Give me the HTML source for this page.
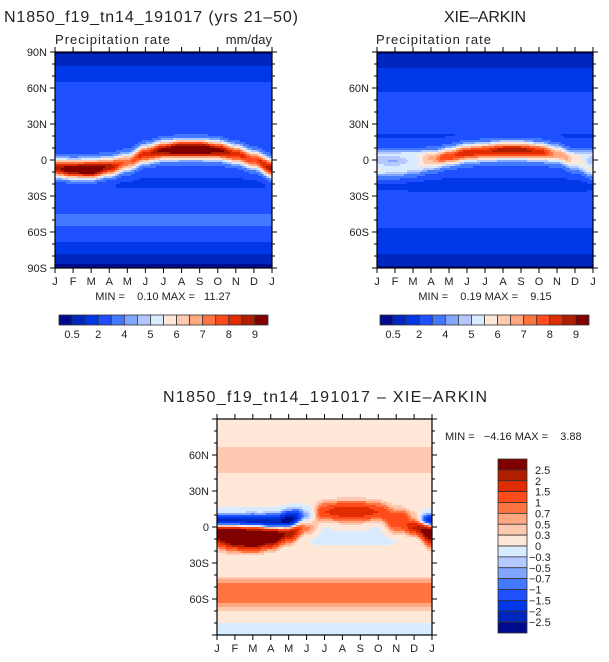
<!DOCTYPE html>
<html><head><meta charset="utf-8"><style>
body{margin:0;background:#fff;}
svg{display:block;font-family:"Liberation Sans",sans-serif;}
</style></head><body>
<svg id="chart" width="609" height="662" viewBox="0 0 609 662" xmlns="http://www.w3.org/2000/svg">
<g id="texts">
<text x="4" y="22" font-size="16" textLength="294" fill="#222">N1850_f19_tn14_191017 (yrs 21–50)</text>
<text x="55" y="44" font-size="13" textLength="115" fill="#222">Precipitation rate</text>
<text x="272" y="44" font-size="13" text-anchor="end" fill="#222">mm/day</text>
<text x="485" y="22" font-size="16" text-anchor="middle" textLength="82" fill="#222">XIE–ARKIN</text>
<text x="376" y="44" font-size="13" textLength="115" fill="#222">Precipitation rate</text>
<text x="163" y="300" font-size="11" text-anchor="middle" fill="#222" xml:space="preserve">MIN =    0.10 MAX =   11.27</text>
<text x="485" y="300" font-size="11" text-anchor="middle" fill="#222" xml:space="preserve">MIN =    0.19 MAX =    9.15</text>
<text x="163" y="402" font-size="16" textLength="324" fill="#222">N1850_f19_tn14_191017 – XIE–ARKIN</text>
<text x="445" y="440" font-size="11" fill="#222" xml:space="preserve">MIN =   −4.16 MAX =    3.88</text>
</g>
</svg>
<script>
// ---- data ----
const months = ['J','F','M','A','M','J','J','A','S','O','N','D','J'];
const latNodes = [-90,-80,-70,-60,-50,-40,-30,-20,-10,0,10,20,30,40,50,60,70,80,90];
const modelBg = [0.3,0.9,1.9,2.8,3.2,2.8,2.3,1.8,2.2,2.4,2.2,2.0,2.5,2.8,2.6,2.4,1.6,0.9,0.4];
const obsBg   = [0.4,0.9,1.6,1.9,2.2,2.6,2.2,1.7,2.3,2.5,2.3,1.9,2.4,2.6,2.2,1.9,1.4,0.8,0.4];
const modelItczLat  = [-7,-8,-8,-6,-2,5,8,9,9,8,5,0,-7];
const modelItczPeak = [6.5,7.5,8,6.5,5,6,7,8,8,7,6,5.5,6.5];
const obsItczLat    = [-8,-8,-6,-2,3,6,7,8,8,7,5,-2,-8];
const obsItczPeak   = [3.2,3,3,3.5,5.5,6,6,6.5,6.5,6,4.5,3,3.2];
const obsItcz2Lat   = [5,5,5,5,5,5,5,5,5,5,5,5,5];
const obsItcz2Peak  = [2.5,2.5,2.5,2,0,0,0,0,0,0,0,1.5,2.5];
const precipLevels = [0.5,1,2,3,4,4.5,5,5.5,6,6.5,7,7.5,8,8.5,9];
const precipLabels = ['0.5','2','4','5','6','7','8','9'];
const diffLevels = [-2.5,-2,-1.5,-1,-0.7,-0.5,-0.3,0,0.3,0.5,0.7,1,1.5,2,2.5];
const diffLabels = ['2.5','2','1.5','1','0.7','0.5','0.3','0','−0.3','−0.5','−0.7','−1','−1.5','−2','−2.5'];
const latTicksFull = ['90S','60S','30S','0','30N','60N','90N'];
const latTicksDiff = ['60S','30S','0','30N','60N'];
const colors = ['#000a8c','#0026c0','#0038e8','#1e50ff','#4279ff','#80a6ff','#b3c9ff','#d9ebff','#ffe8d8','#ffc8b0','#ffa882','#ff7440','#ff4c1a','#e02c00','#b01e00','#800000'];

const NS='http://www.w3.org/2000/svg';
const svg=document.getElementById('chart');
function mk(tag,attrs,parent){const e=document.createElementNS(NS,tag);for(const k in attrs)e.setAttribute(k,attrs[k]);(parent||svg).appendChild(e);return e;}
function interpMonth(arr,m){const i=Math.min(11,Math.floor(m));const t=m-i;const s=(1-Math.cos(Math.PI*t))/2;return arr[i]*(1-s)+arr[i+1]*s;}
function interpLat(arr,lat){const p=(lat+90)/10;const i=Math.min(17,Math.floor(p));const t=p-i;return arr[i]*(1-t)+arr[i+1]*t;}
function g(lat,c,w){const d=(lat-c)/w;return Math.exp(-d*d);}
function modelVal(m,lat){return interpLat(modelBg,lat)+interpMonth(modelItczPeak,m)*g(lat,interpMonth(modelItczLat,m),8.5);}
function obsVal(m,lat){return interpLat(obsBg,lat)+interpMonth(obsItczPeak,m)*g(lat,interpMonth(obsItczLat,m),8)+interpMonth(obsItcz2Peak,m)*g(lat,interpMonth(obsItcz2Lat,m),5);}
function diffVal(m,lat){return modelVal(m,lat)-obsVal(m,lat);}
function level(v,levels){let k=0;while(k<levels.length&&v>=levels[k])k++;return k;}

function drawPanel(name,x0,y0,W,H,fn,levels,ticks,topTicks){
  const gp=mk('g',{});
  
  
  const xs=v=>x0+v/12*W, ys=lat=>y0+(90-lat)/180*H;
  const rowH=2;
  for(let y=0;y<H;y+=rowH){
    const lat=90-(y+rowH/2)/H*180;
    let start=0,cur=-1;
    for(let x=0;x<=W;x++){
      let k=-1;
      if(x<W){k=level(fn((x+0.5)/W*12,lat),levels);}
      if(k!==cur){
        if(cur>=0){const r=mk('rect',{x:x0+start,y:y0+y,width:x-start+0.4,height:rowH+0.4,fill:colors[cur]},gp);
          
          }
        start=x;cur=k;
      }
    }
  }
  const f=mk('rect',{x:x0,y:y0,width:W,height:H,fill:'none',stroke:'#000','stroke-width':1.2},gp);
  
  
  months.forEach((mo,i)=>{
    const x=xs(i);
    mk('line',{x1:x,x2:x,y1:y0+H,y2:y0+H+5,stroke:'#000'},gp);
    if(topTicks)mk('line',{x1:x,x2:x,y1:y0,y2:y0-5,stroke:'#000'},gp);
    const t=mk('text',{x:x,y:y0+H+17,'font-size':11,'text-anchor':'middle',fill:'#222'},gp);
    t.textContent=mo;
    
    
  });
  for(let lat=-90;lat<=90;lat+=10){
    const y=ys(lat);const major=lat%30===0;const L=major?5:3;
    mk('line',{x1:x0,x2:x0-L,y1:y,y2:y,stroke:'#000'},gp);
    mk('line',{x1:x0+W,x2:x0+W+L,y1:y,y2:y,stroke:'#000'},gp);
  }
  ticks.forEach(lb=>{
    const lat=lb==='0'?0:(parseInt(lb)*(lb.endsWith('S')?-1:1));
    const t=mk('text',{x:x0-8,y:ys(lat)+4,'font-size':11,'text-anchor':'end',fill:'#222'},gp);
    t.textContent=lb;
    
    
  });
}
function hBar(name,x0,y0,W,H){
  const gp=mk('g',{});
  
  
  const bw=W/16;
  colors.forEach((c,i)=>{const r=mk('rect',{x:x0+i*bw,y:y0,width:bw,height:H,fill:c,stroke:'#333','stroke-width':0.8},gp);
    
    });
  precipLabels.forEach((lb,i)=>{const t=mk('text',{x:x0+(1+2*i)*bw,y:y0+H+13,'font-size':11,'text-anchor':'middle',fill:'#222'},gp);
    t.textContent=lb;
    
    });
}
drawPanel('model-panel',55,52,217,216,modelVal,precipLevels,latTicksFull,true);
drawPanel('obs-panel',377,52,216,216,obsVal,precipLevels,latTicksFull.slice(1,6),true);
drawPanel('diff-panel',217,419,215,216,diffVal,diffLevels,latTicksDiff,true);
hBar('model-colorbar',59,315,209,10);
hBar('obs-colorbar',380,315,209,10);
(function(){
  const gp=mk('g',{});
  
  
  const x0=498,y0=459,W=29,H=174,bh=H/16;
  for(let i=0;i<16;i++){const r=mk('rect',{x:x0,y:y0+i*bh,width:W,height:bh,fill:colors[15-i],stroke:'#333','stroke-width':0.8},gp);
    
    }
  diffLabels.forEach((lb,i)=>{const t=mk('text',{x:lb.startsWith('−')?x0+W+2:x0+W+8,y:y0+(i+1)*bh+4,'font-size':11,fill:'#222'},gp);
    t.textContent=lb;
    
    });
})();
</script>
</body></html>
